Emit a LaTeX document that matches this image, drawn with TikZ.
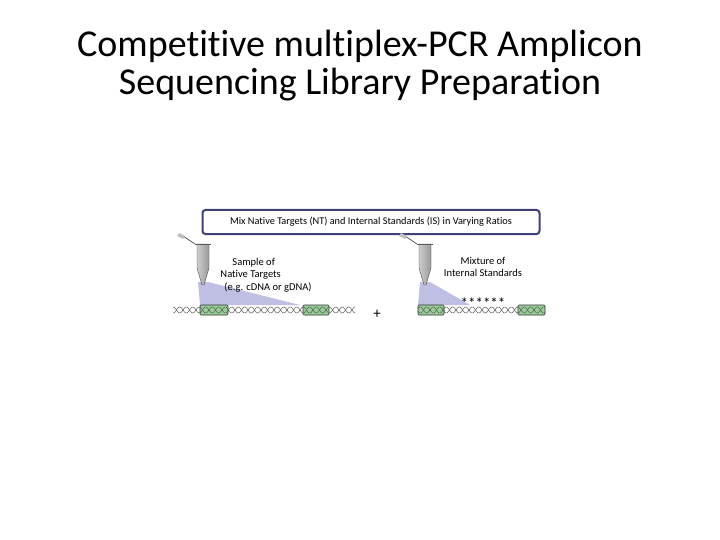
\documentclass[tikz,border=0pt]{standalone}
\usepackage{fontspec}
\setmainfont{Carlito}[Ligatures=NoCommon]
\begin{document}
\begin{tikzpicture}[x=1pt,y=-1pt,
  helix/.style={draw=gray!70!black,line width=0.5pt},
  gbox/.style={draw=black!80,fill=green!35!gray!60,line width=0.6pt,rounded corners=1pt},
  lbl/.style={font=\fontsize{10.5}{12.5}\selectfont,align=center,inner sep=0pt}]
\useasboundingbox (0,0) rectangle (720,540);
\node[font=\fontsize{38}{38}\selectfont,align=center] (title) at (360,66) {Competitive multiplex-PCR Amplicon\\Sequencing Library Preparation};
\node[draw=blue!30!black!75,line width=2pt,rounded corners=3pt,minimum width=337pt,minimum height=24pt,font=\fontsize{10.3}{11}\selectfont,inner sep=1pt] (mix) at (371,222) {Mix Native Targets (NT) and Internal Standards (IS) in Varying Ratios};
% fans
\fill[blue!40!gray!45,opacity=0.8] (198,282) -- (208,282) -- (300,305) -- (200,305) -- cycle;
\fill[blue!40!gray!45,opacity=0.8] (420,282) -- (430,282) -- (470,305) -- (418,305) -- cycle;
% tubes
\foreach \t/\cx in {tl/203,tr/425}{
  \shade[left color=gray!40,right color=gray!80,draw=gray!60!black,line width=0.4pt]
    (\cx-6,244) -- (\cx+6,244) -- (\cx+6,268) -- (\cx+1,285) -- (\cx-1,285) -- (\cx-6,268) -- cycle;
  \draw[gray!70!black,line width=0.8pt] (\cx-8,244) -- (\cx+8,244);
  \draw[gray!70!black,line width=0.8pt] (\cx-8,244) -- (\cx-14,240) -- (\cx-20,236);
  \fill[gray!50] (\cx-24,233) -- (\cx-18,236) -- (\cx-20,239) -- (\cx-26,236) -- cycle;
}
\node[lbl,align=left] (nt) at (266,275) {\hspace*{12pt}Sample of\\Native Targets\\\hspace*{4pt}(e.g. cDNA or gDNA)};
\node[lbl] (is) at (483,267) {Mixture of\\Internal Standards};
% helices
\foreach \a/\b in {173/355,418/545}{
  \draw[helix] plot[domain=\a:\b,samples=220] (\x,{310+3*sin((\x-170)*27.692)});
  \draw[helix] plot[domain=\a:\b,samples=220] (\x,{310-3*sin((\x-170)*27.692)});
}
\foreach \a/\b in {200/228,303/329,418/444,518/545}{
  \draw[gbox] (\a,305) rectangle (\b,315);
  \draw[gray!60!black,line width=0.4pt] plot[domain=\a:\b,samples=60] (\x,{310+3*sin((\x-170)*27.692)});
  \draw[gray!60!black,line width=0.4pt] plot[domain=\a:\b,samples=60] (\x,{310-3*sin((\x-170)*27.692)});
}
\node[font=\fontsize{15}{15}\selectfont,inner sep=0pt] (stars) at (483,303) {******};
\node[font=\fontsize{15}{15}\selectfont,inner sep=0pt] (plus) at (377,314) {+};
\end{tikzpicture}
\end{document}
